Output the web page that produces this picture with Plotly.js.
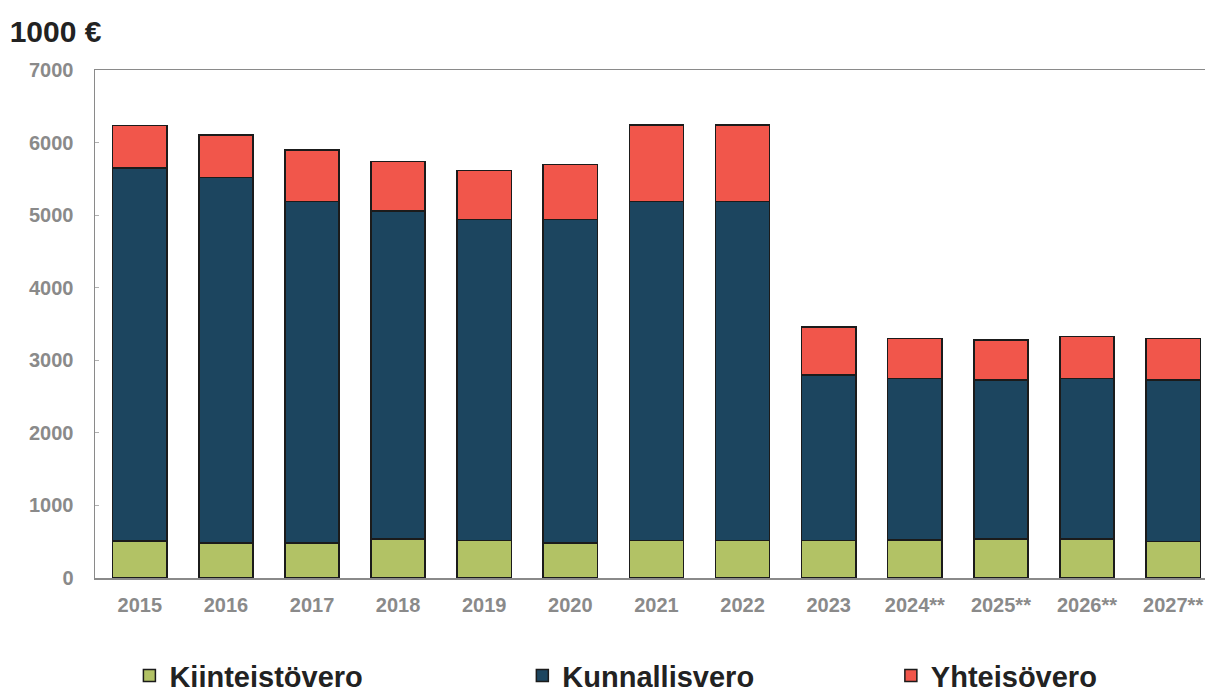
<!DOCTYPE html>
<html>
<head>
<meta charset="utf-8">
<script src="https://cdn.plot.ly/plotly-3.0.1.min.js"></script>
<style>html,body{margin:0;padding:0;background:#fff}#chart{width:1205px;height:697px}</style>
</head>
<body>
<div id="chart"></div>
<script>
const years = ['2015','2016','2017','2018','2019','2020','2021','2022','2023','2024**','2025**','2026**','2027**'];
const kiinteistovero = [510, 480, 480, 535, 515, 480, 515, 515, 515, 525, 535, 535, 500];
const kunnallisvero  = [5140, 5040, 4710, 4525, 4425, 4460, 4675, 4675, 2280, 2225, 2195, 2215, 2230];
const yhteisovero    = [585, 585, 710, 680, 675, 755, 1055, 1055, 665, 550, 550, 580, 570];
const yTicks = [0, 1000, 2000, 3000, 4000, 5000, 6000, 7000];

const FONT = 'Liberation Sans, Arial, sans-serif';
const outline = {color: '#1b1b1b', width: 1.5};

const traces = [
  {type: 'bar', name: 'Kiinteistövero', x: years, y: kiinteistovero,
   marker: {color: '#b2c265', line: outline}, legend: 'legend'},
  {type: 'bar', name: 'Kunnallisvero', x: years, y: kunnallisvero,
   marker: {color: '#1c455f', line: outline}, legend: 'legend2'},
  {type: 'bar', name: 'Yhteisövero', x: years, y: yhteisovero,
   marker: {color: '#f1564b', line: outline}, legend: 'legend3'}
];

const legendBase = {
  orientation: 'h', yanchor: 'middle', y: -0.192, xanchor: 'left',
  font: {family: FONT, size: 29, color: '#222', weight: 'bold'},
  bgcolor: 'rgba(0,0,0,0)', borderwidth: 0
};

const layout = {
  width: 1205, height: 697,
  margin: {l: 95, r: 0, t: 70, b: 119, pad: 0, autoexpand: false},
  paper_bgcolor: '#fff', plot_bgcolor: '#fff',
  barmode: 'stack', bargap: 0.37,
  showlegend: true,
  title: {text: '1000 €', x: 0.008, xanchor: 'left', y: 0.955, yanchor: 'middle',
          font: {family: FONT, size: 30, color: '#222', weight: 'bold'}},
  xaxis: {
    type: 'category', range: [-0.52, 12.37],
    showline: true, linecolor: '#8a8a8a', linewidth: 1.5, mirror: true,
    ticks: '', showgrid: false, ticklabelstandoff: 8,
    tickfont: {family: FONT, size: 20, color: '#8a8a8a', weight: 'bold'}
  },
  yaxis: {
    range: [0, 7000], tickvals: yTicks, ticktext: yTicks.map(String),
    showline: true, linecolor: '#8a8a8a', linewidth: 1.5,
    ticks: 'inside', ticklen: 4, tickcolor: '#b0b0b0',
    showgrid: false, zeroline: false, ticklabelstandoff: 16,
    tickfont: {family: FONT, size: 20, color: '#8a8a8a', weight: 'bold'}
  },
  legend: Object.assign({}, legendBase, {x: 0.031}),
  legend2: Object.assign({}, legendBase, {x: 0.385}),
  legend3: Object.assign({}, legendBase, {x: 0.717})
};

Plotly.newPlot('chart', traces, layout, {displayModeBar: false, staticPlot: true});
</script>
</body>
</html>
